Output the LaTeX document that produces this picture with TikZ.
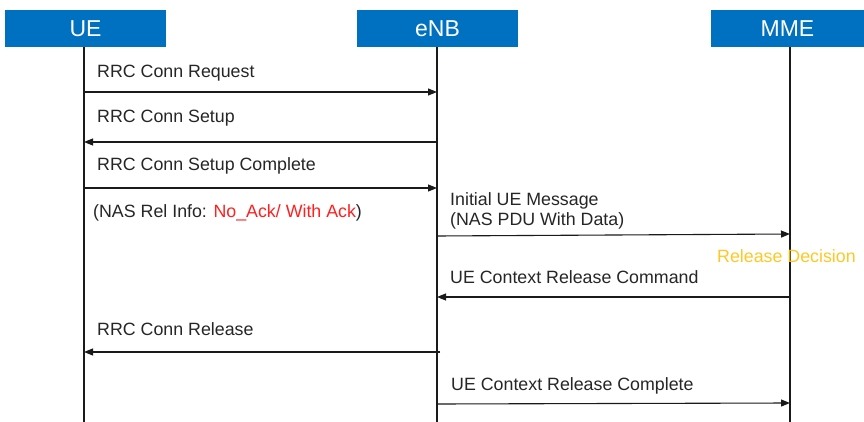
\documentclass[tikz,border=0pt]{standalone}
\usepackage{fontspec}
\setmainfont{Liberation Sans}
\usetikzlibrary{arrows.meta}
\definecolor{hdrblue}{HTML}{0070C0}
\definecolor{relred}{HTML}{FF2020}
\definecolor{decorange}{HTML}{FFC20E}
\definecolor{linegray}{HTML}{1A1A1A}
\tikzset{
  hdr/.style={fill=hdrblue, draw=none, text=white, minimum height=37pt, inner sep=0pt,
    font=\fontsize{23}{26}\selectfont},
  lifeline/.style={draw=linegray, line width=1.2pt},
  msg/.style={draw=linegray, line width=1.1pt, -{Triangle[length=9pt,width=7pt]}},
  lbl/.style={anchor=base west, inner sep=0pt, font=\fontsize{17.8}{20}\selectfont, text=black!85},
}
\begin{document}
\begin{tikzpicture}[x=1pt,y=-1pt]
\useasboundingbox (0,0) rectangle (864,422);
\fill[white] (0,0) rectangle (864,422);
% headers
\node[hdr, minimum width=161pt] (ue) at (85.5,28.5) {UE};
\node[hdr, minimum width=161pt] (enb) at (437.5,28.5) {eNB};
\node[hdr, minimum width=153pt] (mme) at (787.5,28.5) {MME};
% lifeline ends
\coordinate (ueT) at (84,47);  \coordinate (ueB) at (84,422);
\coordinate (enbT) at (437,47); \coordinate (enbB) at (437,422);
\coordinate (mmeT) at (790,47); \coordinate (mmeB) at (790,422);
\draw[lifeline] (ueT) -- (ueB);
\draw[lifeline] (enbT) -- (enbB);
\draw[lifeline] (mmeT) -- (mmeB);
% message endpoints
\coordinate (m1a) at (84,92);   \coordinate (m1b) at (437,92);
\coordinate (m2a) at (437,142); \coordinate (m2b) at (84,142);
\coordinate (m3a) at (84,188);  \coordinate (m3b) at (437,188);
\coordinate (m4a) at (437,236); \coordinate (m4b) at (790,234);
\coordinate (m5a) at (790,297); \coordinate (m5b) at (437,297);
\coordinate (m6a) at (440,352); \coordinate (m6b) at (84,352);
\coordinate (m7a) at (437,404); \coordinate (m7b) at (790,403);
\draw[msg] (m1a) -- (m1b);
\draw[msg] (m2a) -- (m2b);
\draw[msg] (m3a) -- (m3b);
\draw[msg] (m4a) -- (m4b);
\draw[msg] (m5a) -- (m5b);
\draw[msg] (m6a) -- (m6b);
\draw[msg] (m7a) -- (m7b);
% labels
\node[lbl] (l1) at (97,78) {RRC Conn Request};
\node[lbl] (l2) at (97,123) {RRC Conn Setup};
\node[lbl] (l3) at (97,171) {RRC Conn Setup Complete};
\node[lbl] (l4) at (93,217) {(NAS Rel Info: \textcolor{relred}{No\_Ack/ With Ack})};
\node[lbl] (l5) at (450,205) {Initial UE Message};
\node[lbl] (l5b) at (450,225) {(NAS PDU With Data)};
\node[lbl, text=decorange, opacity=0.9] (l6) at (717,262) {Release Decision};
\node[lbl] (l7) at (450,283) {UE Context Release Command};
\node[lbl] (l8) at (97,335) {RRC Conn Release};
\node[lbl] (l9) at (451,390) {UE Context Release Complete};
\end{tikzpicture}
\end{document}
